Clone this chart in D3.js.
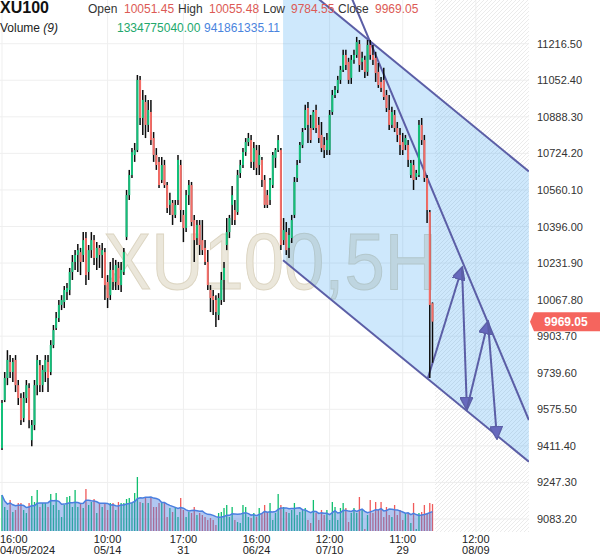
<!DOCTYPE html>
<html>
<head>
<meta charset="utf-8">
<script src="https://cdn.jsdelivr.net/npm/d3@7"></script>
<style>
    body { margin: 0; background: #fff; }
    text { font-family: "Liberation Sans", Arial, sans-serif; }
</style>
</head>
<body>
<div id="canvas"></div>
<script>
// velas de 5 horas, XU100
var opens = [9401,9617,9716,9788,9743,9797,9684,9626,9536,9626, 9671,9437,9505,9684,9774,9684,9743,9788,9743,9864,
    9940,9985,10044,10057,10102,10111,10192,10237,10268,10281, 10268,10344,10192,10290,10335,10255,10300,10268,10281,10147,
    10088,10201,10147,10210,10133,10192,10349,10537,10627,10717, 10739,11054,10883,10955,10852,10910,10793,10717,10686,10605,
    10672,10582,10493,10502,10448,10515,10672,10448,10389,10537, 10582,10425,10344,10403,10335,10300,10237,10111,10084,10066,
    9999,10066,10156,10313,10371,10493,10470,10461,10636,10672, 10730,10775,10784,10686,10739,10672,10695,10605,10537,10515,
    10582,10704,10739,10739,10335,10371,10300,10344,10448,10614, 10695,10762,10838,10928,10838,10838,10919,10852,10807,10762,
    10739,10739,10910,10986,11009,11054,11099,11166,11135,11063, 11144,11166,11215,11135,11144,11090,11211,11166,11153,11090,
    11045,11054,10986,10919,10852,10897,10838,10807,10775,10762, 10762,10627,10672,10618,10627,10852,10784,10614,10461,10051.45];
var highs = [9617,9743,9841,9819,9806,9819,9707,9648,9653,9707, 9693,9527,9707,9819,9797,9774,9819,9819,9886,9954,
    10012,10066,10088,10129,10142,10210,10268,10290,10317,10300, 10371,10371,10313,10371,10358,10326,10313,10322,10300,10178,
    10237,10255,10246,10237,10237,10300,10560,10650,10748,10771, 11076,11072,11009,10986,10964,10964,10820,10748,10708,10708,
    10695,10596,10547,10515,10515,10717,10695,10470,10560,10605, 10596,10448,10425,10425,10425,10335,10290,10133,10111,10088,
    10097,10192,10237,10434,10448,10578,10515,10650,10695,10748, 10793,10816,10807,10775,10762,10762,10708,10627,10560,10614,
    10730,10748,10807,10748,10434,10416,10389,10448,10618,10695, 10775,10838,10942,10955,10897,10919,10942,10888,10865,10798,
    10816,10919,11009,11027,11072,11117,11189,11189,11153,11166, 11189,11247,11233,11180,11162,11233,11233,11211,11180,11130,
    11067,11108,11009,10986,10933,10919,10865,10838,10816,10807, 10784,10695,10695,10650,10874,10883,10807,10627,10470,10055.48];
var lows = [9393,9608,9684,9716,9698,9653,9595,9505,9518,9604, 9491,9410,9482,9639,9653,9653,9698,9653,9729,9850,
    9931,9967,10021,10030,10066,10088,10156,10201,10192,10178, 10237,10133,10156,10255,10223,10201,10210,10165,10066,10030,
    10066,10111,10111,10111,10102,10178,10335,10515,10614,10686, 10730,10852,10807,10793,10820,10762,10686,10650,10569,10591,
    10569,10457,10448,10403,10434,10493,10416,10326,10371,10493, 10398,10237,10313,10268,10268,10223,10111,10012,9999,9945,
    9976,10044,10057,10290,10344,10403,10403,10448,10614,10659, 10713,10757,10659,10650,10627,10627,10573,10479,10479,10493,
    10569,10659,10730,10290,10313,10268,10255,10322,10434,10596, 10681,10748,10829,10771,10771,10829,10816,10771,10730,10704,
    10717,10717,10897,10973,10995,11036,11090,11099,11036,11036, 11126,11153,11090,11099,11063,11072,11144,11121,11045,11018,
    11000,10964,10910,10829,10838,10820,10775,10717,10717,10739, 10663,10614,10560,10605,10618,10762,10596,10412,9716,9784.55];
var closes = [9604,9716,9797,9743,9788,9684,9626,9527,9626,9684, 9527,9505,9684,9797,9684,9752,9797,9716,9864,9931,
    9985,10044,10066,10111,10120,10192,10237,10268,10290,10237, 10335,10178,10290,10335,10255,10300,10268,10290,10133,10075,
    10201,10147,10223,10133,10201,10281,10537,10627,10730,10739, 11054,10883,10964,10852,10919,10784,10717,10672,10582,10672,
    10582,10479,10515,10448,10493,10695,10470,10389,10537,10582, 10416,10335,10403,10313,10290,10237,10133,10075,10066,10012,
    10075,10156,10210,10371,10434,10537,10425,10627,10672,10730, 10775,10793,10686,10748,10659,10717,10605,10493,10493,10605,
    10717,10739,10784,10313,10380,10290,10358,10425,10596,10672, 10762,10820,10919,10852,10784,10910,10838,10793,10748,10739,
    10784,10897,10986,11009,11054,11099,11166,11121,11054,11144, 11166,11224,11121,11153,11090,11211,11166,11144,11085,11031,
    11018,10977,10928,10852,10910,10838,10807,10762,10739,10793, 10695,10681,10605,10636,10852,10784,10614,10470,10044,9969.05];
// volumen en millones
var volumes = [1782,1188,1040,1535,941,1040,1386,1386,1040,891, 1386,1733,1436,2030,1188,1386,1386,1188,1832,1287,
    1881,1040,693,1287,1683,1733,1188,2030,1188,1386, 1139,2079,1287,1436,1584,891,1386,1188,1386,1040,
    1386,1386,1040,1436,1386,1386,1584,1634,1386,1881, 2673,1436,1386,1683,1386,1634,1188,1188,1386,1436,
    1386,693,1139,941,1188,693,1634,1040,693,941, 891,1188,792,891,792,693,545,644,545,297,
    891,941,1139,1287,693,1188,545,446,396,1287, 1188,693,644,891,693,1139,891,1287,941,1386,
    545,891,1832,1287,1188,941,891,1040,1386,792, 941,1040,1139,545,396,1535,891,545,1040,792,
    1040,545,1436,1188,545,1139,1386,1139,446,891, 1139,891,1683,1040,99,792,1535,891,1436,1040,
    1436,693,1188,792,693,1287,792,1040,545,891, 891,396,1386,99,891,941,1287,891,1386,1334.78];

var priceTicks = [9083.20, 9247.30, 9411.40, 9575.50, 9739.60, 9903.70, 10067.80, 10231.90,
    10396.00, 10560.10, 10724.20, 10888.30, 11052.40, 11216.50];
var timeTickIdx = [0, 39, 67, 94, 121, 148, 175];
var timeTickHours = ["16:00", "10:00", "17:00", "16:00", "12:00", "11:00", "12:00"];
var timeTickDates = ["04/05/2024", "05/14", "31", "06/24", "07/10", "29", "08/09"];

// dibujos: canal paralelo, linea de tendencia y flechas (indice de vela, precio)
var channelUpper = [{i: 103.8, p: 11548}, {i: 194.6, p: 10643}];
var channelLower = [{i: 103.8, p: 10245}, {i: 194.6, p: 9340}];
var trendLine = [{i: 125, p: 11542}, {i: 194.6, p: 9527}];
var arrowPath = [{i: 157.3, p: 9716}, {i: 169.9, p: 10210}, {i: 171.7, p: 9577}, {i: 179.5, p: 9967}, {i: 182.8, p: 9446}];

var volumeMA = "941861335.11";
var lastVolume = "1334775040.00";

var width = 600;
var height = 558;
var plotRight = 529;
var plotBottom = 532;
var n = closes.length;

var svg = d3.select("#canvas").append("svg")
    .attr("width", width)
    .attr("height", height);

var x = d3.scaleLinear().domain([0, n - 1]).range([2, 432.5]);
var y = d3.scaleLinear().domain([9083.2, 11216.5]).range([519, 43.7]);
var yVol = d3.scaleLinear().domain([0, d3.max(volumes)]).range([531, 477]);

var verde = "#13c07a", rojo = "#f46c66", trazo = "#5b5ea6";

var defs = svg.append("defs");
defs.append("clipPath").attr("id", "plot")
    .append("rect").attr("x", 0).attr("y", 0).attr("width", plotRight).attr("height", plotBottom);

var hatch = defs.append("pattern").attr("id", "hatch")
    .attr("patternUnits", "userSpaceOnUse")
    .attr("width", 4).attr("height", 4);
hatch.append("path").attr("d", "M-1,1 l2,-2 M0,4 l4,-4 M3,5 l2,-2")
    .attr("stroke", "#ebebeb").attr("stroke-width", 1);

defs.append("marker").attr("id", "punta")
    .attr("viewBox", "0 0 10 10")
    .attr("refX", 9).attr("refY", 5)
    .attr("markerUnits", "userSpaceOnUse")
    .attr("markerWidth", 14).attr("markerHeight", 13)
    .attr("orient", "auto")
    .append("path").attr("d", "M0,0 L10,5 L0,10 z")
    .attr("fill", "#6769bd").attr("stroke", trazo).attr("stroke-width", 1);

// rejilla
svg.append("g").selectAll("line")
    .data(priceTicks)
    .enter().append("line")
    .attr("x1", 0).attr("x2", plotRight)
    .attr("y1", function(d) { return y(d); })
    .attr("y2", function(d) { return y(d); })
    .attr("stroke", "#efefef");

svg.append("g").selectAll("line")
    .data(timeTickIdx)
    .enter().append("line")
    .attr("x1", function(d) { return x(d); })
    .attr("x2", function(d) { return x(d); })
    .attr("y1", 0).attr("y2", plotBottom)
    .attr("stroke", "#efefef");

// zona futura rayada
svg.append("rect")
    .attr("x", x(n - 1) + 2.5).attr("y", 0)
    .attr("width", plotRight - x(n - 1) - 2.5).attr("height", plotBottom)
    .attr("fill", "url(#hatch)");

// marca de agua
svg.append("text")
    .attr("x", 103).attr("y", 289)
    .attr("font-size", 80)
    .attr("textLength", 334)
    .attr("lengthAdjust", "spacingAndGlyphs")
    .attr("fill", "#ebe7db")
    .attr("stroke", "#dcd5c2")
    .attr("stroke-width", 1)
    .text("XU100,5H");

var dib = svg.append("g").attr("clip-path", "url(#plot)");

// relleno del canal
var canal = [channelUpper[0], channelUpper[1], channelLower[1], channelLower[0]];
dib.append("polygon")
    .attr("points", canal.map(function(d) { return x(d.i) + "," + y(d.p); }).join(" "))
    .attr("fill", "rgba(33,150,243,0.22)");

// volumen
var volG = svg.append("g");
volG.selectAll(".vol")
    .data(volumes)
    .enter().append("rect")
    .attr("class", "vol")
    .attr("x", function(d, i) { return x(i) - 0.65; })
    .attr("y", function(d) { return yVol(d); })
    .attr("width", 1.3)
    .attr("height", function(d) { return yVol(0) - yVol(d); })
    .attr("fill", function(d, i) { return closes[i] >= opens[i] ? "#0fbf6f" : "#f05a5a"; });

var ma = volumes.map(function(v, i) {
    return d3.mean(volumes.slice(Math.max(0, i - 8), i + 1));
});
volG.append("path")
    .datum(ma)
    .attr("d", d3.area()
        .x(function(d, i) { return x(i); })
        .y0(yVol(0))
        .y1(function(d) { return yVol(d); }))
    .attr("fill", "rgba(80,130,225,0.45)");
volG.append("path")
    .datum(ma)
    .attr("d", d3.line()
        .x(function(d, i) { return x(i); })
        .y(function(d) { return yVol(d); }))
    .attr("fill", "none")
    .attr("stroke", "#4a7fe0")
    .attr("stroke-width", 1.5);

// velas
var velas = svg.append("g");
velas.selectAll(".mecha")
    .data(closes)
    .enter().append("line")
    .attr("class", "mecha")
    .attr("x1", function(d, i) { return x(i); })
    .attr("x2", function(d, i) { return x(i); })
    .attr("y1", function(d, i) { return y(highs[i]); })
    .attr("y2", function(d, i) { return y(lows[i]); })
    .attr("stroke", "#0b0b0b")
    .attr("stroke-width", 1.5);

velas.selectAll(".cuerpo")
    .data(closes)
    .enter().append("rect")
    .attr("class", "cuerpo")
    .attr("x", function(d, i) { return x(i) - 1; })
    .attr("y", function(d, i) { return y(Math.max(opens[i], d)); })
    .attr("width", 2)
    .attr("height", function(d, i) { return Math.max(1, Math.abs(y(opens[i]) - y(d))); })
    .attr("fill", function(d, i) { return d >= opens[i] ? verde : rojo; });

// lineas dibujadas
[channelUpper, channelLower, trendLine].forEach(function(l) {
    dib.append("line")
        .attr("x1", x(l[0].i)).attr("y1", y(l[0].p))
        .attr("x2", x(l[1].i)).attr("y2", y(l[1].p))
        .attr("stroke", trazo)
        .attr("stroke-width", 2);
});

dib.selectAll(".flecha")
    .data(d3.pairs(arrowPath))
    .enter().append("line")
    .attr("class", "flecha")
    .attr("x1", function(d) { return x(d[0].i); })
    .attr("y1", function(d) { return y(d[0].p); })
    .attr("x2", function(d) { return x(d[1].i); })
    .attr("y2", function(d) { return y(d[1].p); })
    .attr("stroke", trazo)
    .attr("stroke-width", 2)
    .attr("marker-end", "url(#punta)");

// eje de precios
var ejeY = svg.append("g")
    .attr("transform", "translate(" + plotRight + ",0)")
    .call(d3.axisRight(y).tickValues(priceTicks).tickFormat(d3.format(".2f")).tickSize(0).tickPadding(8));
ejeY.select(".domain").remove();
ejeY.selectAll("text")
    .attr("font-size", 11)
    .attr("fill", "#333")
    .style("font-family", "'Liberation Sans', Arial, sans-serif");

// eje de tiempo
var ejeX = svg.append("g");
var etiquetas = ejeX.selectAll("text")
    .data(timeTickIdx)
    .enter().append("text")
    .attr("font-size", 11)
    .attr("fill", "#222")
    .attr("text-anchor", function(d, i) { return i === 0 ? "start" : "middle"; });
etiquetas.append("tspan")
    .attr("x", function(d, i) { return i === 0 ? 0 : x(d); })
    .attr("y", 542.5)
    .text(function(d, i) { return timeTickHours[i]; });
etiquetas.append("tspan")
    .attr("x", function(d, i) { return i === 0 ? 0 : x(d); })
    .attr("y", 553.5)
    .text(function(d, i) { return timeTickDates[i]; });

// etiqueta del ultimo precio
var ultimo = closes[n - 1];
var cy = y(ultimo);
svg.append("path")
    .attr("d", "M" + (plotRight + 1) + "," + cy + " L" + (plotRight + 5) + "," + (cy - 9.5) +
        " L600," + (cy - 9.5) + " L600," + (cy + 9.5) + " L" + (plotRight + 5) + "," + (cy + 9.5) + " Z")
    .attr("fill", "#f5655e");
svg.append("text")
    .attr("x", 566).attr("y", cy + 4)
    .attr("text-anchor", "middle")
    .attr("font-size", 12)
    .attr("font-weight", "bold")
    .attr("fill", "#fff")
    .text(d3.format(".2f")(ultimo));

// cabecera
var cab = svg.append("g");
cab.append("text").attr("x", 0).attr("y", 13)
    .attr("font-size", 16).attr("font-weight", "bold").attr("fill", "#111")
    .text("XU100");

var ohlc = [
    {nombre: "Open", valor: opens[n - 1], x: 88, xv: 124},
    {nombre: "High", valor: highs[n - 1], x: 178, xv: 209},
    {nombre: "Low", valor: lows[n - 1], x: 263, xv: 291},
    {nombre: "Close", valor: closes[n - 1], x: 338, xv: 375}
];
ohlc.forEach(function(d) {
    cab.append("text").attr("x", d.x).attr("y", 13)
        .attr("font-size", 12).attr("fill", "#333").text(d.nombre);
    cab.append("text").attr("x", d.xv).attr("y", 13)
        .attr("font-size", 12).attr("fill", "#dc5a55").text(d3.format(".2f")(d.valor));
});

var vt = cab.append("text").attr("x", 0).attr("y", 32)
    .attr("font-size", 12).attr("fill", "#222");
vt.append("tspan").text("Volume ");
vt.append("tspan").attr("font-style", "italic").text("(9)");
cab.append("text").attr("x", 117).attr("y", 32)
    .attr("font-size", 12).attr("fill", "#22a86c").text(lastVolume);
cab.append("text").attr("x", 204).attr("y", 32)
    .attr("font-size", 12).attr("fill", "#4a84de").text(volumeMA);
</script>
</body>
</html>
